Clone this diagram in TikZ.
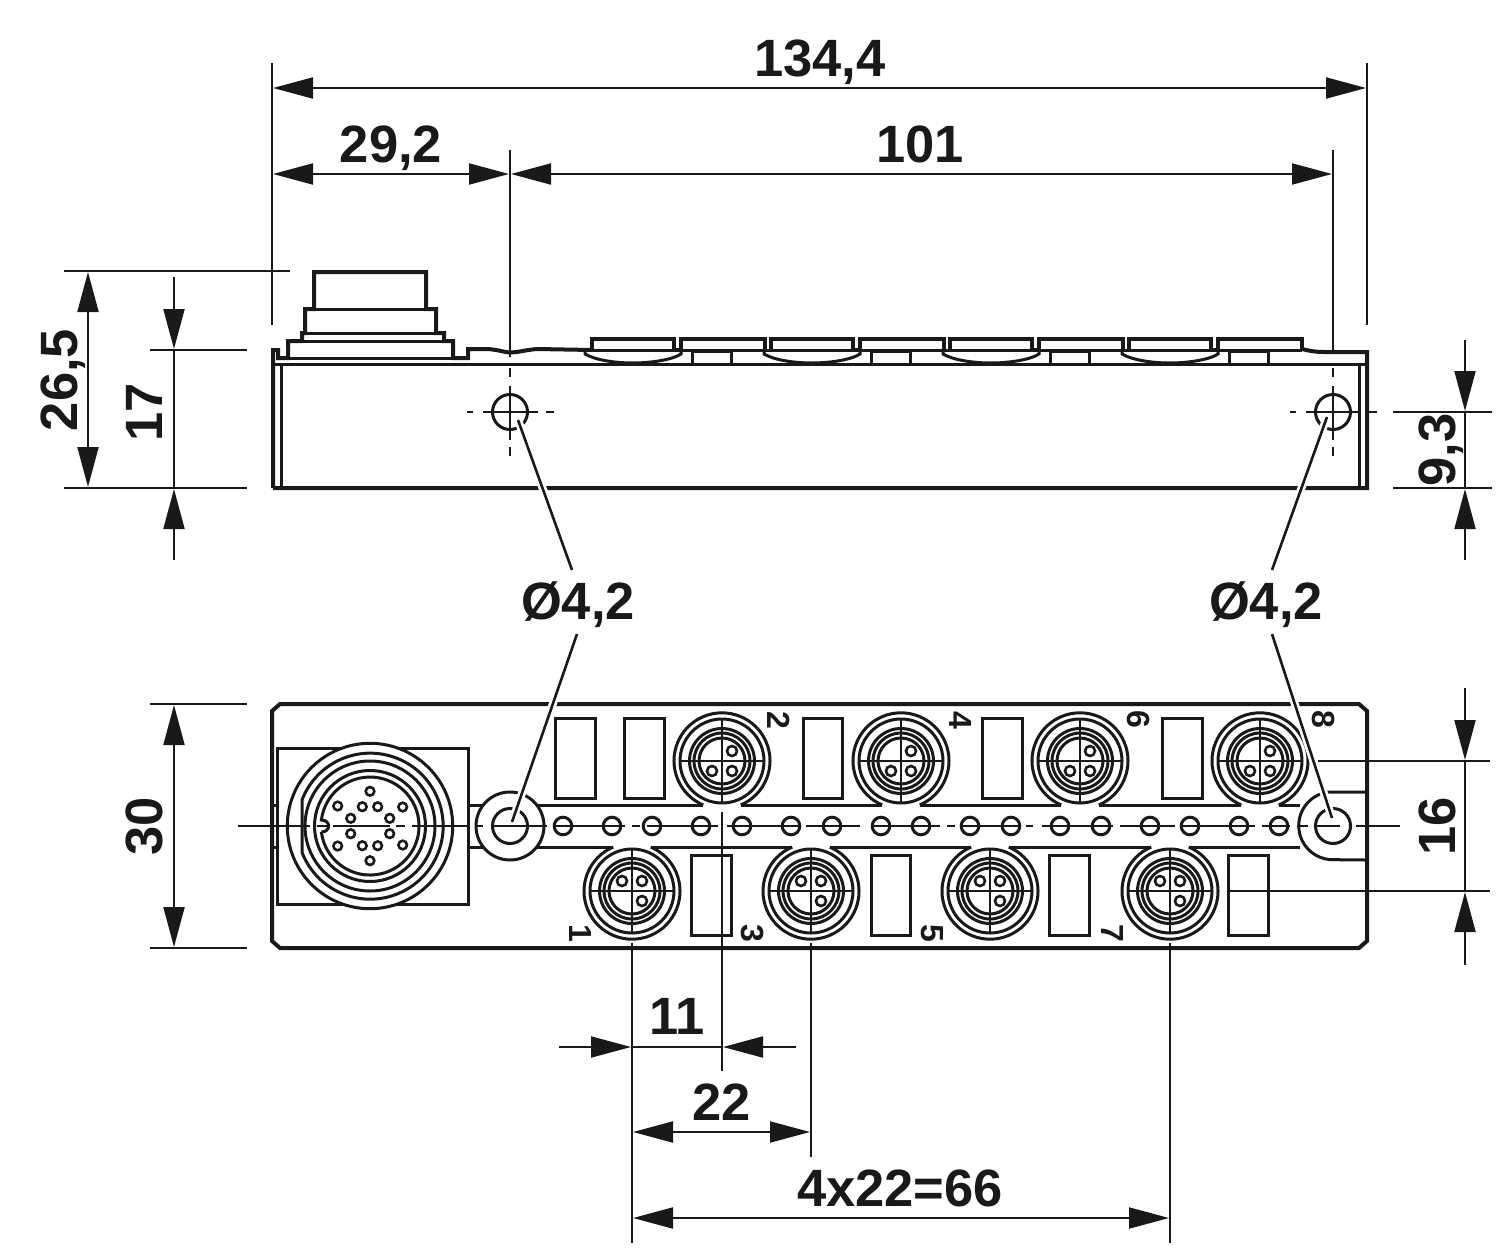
\documentclass[tikz,border=0pt]{standalone}
\usepackage{fontspec}
\setmainfont{Liberation Sans}
\usetikzlibrary{arrows.meta}
\tikzset{
  x=1pt,y=-1pt,
  dimline/.style={line width=2pt,black!90},
  dimtip/.style={dimline,-{Triangle[length=40pt,width=21pt]}},
  dimboth/.style={dimline,{Triangle[length=40pt,width=21pt]}-{Triangle[length=40pt,width=21pt]}},
  extline/.style={line width=2pt,black!90},
  bodyline/.style={line width=4pt,black!90,line join=miter},
  midline/.style={line width=3pt,black!90},
  thinpart/.style={line width=2.6pt,black!90},
  centreline/.style={line width=2.2pt,black!90},
  halo/.style={line width=8pt,white},
  leaderline/.style={line width=2.6pt,black!90},
  lab/.style={font=\bfseries\fontsize{52.5}{53}\selectfont,text=black!90,inner sep=0pt,anchor=base},
  vlab/.style={lab,rotate=90},
  posnum/.style={font=\bfseries\fontsize{32}{33}\selectfont,text=black!90,inner sep=0pt,rotate=-90}
}
\begin{document}
\begin{tikzpicture}
\useasboundingbox (0,0) rectangle (1500,1253);
\fill[white] (0,0) rectangle (1500,1253);

% ---------- side view
\draw[bodyline] (273,488) -- (273,350) -- (278,350) -- (278,358) -- (288,358) -- (288,341) -- (302,341) -- (302,333) -- (305,333)
  -- (305,309) -- (314,309) -- (314,272) -- (426,272) -- (426,309) -- (436,309) -- (436,333) -- (444,333) -- (444,341)
  -- (453,341) -- (453,358) -- (468,358) -- (468,349) -- (488,349) .. controls (500,350) and (505,352.5) .. (510,352.5)
  .. controls (518,352.5) and (525,350) .. (537,349) -- (592,350);
\draw[midline] (305,309) -- (436,309) (302,333) -- (444,333) (288,341) -- (453,341) (288,358) -- (453,358);
\draw[bodyline] (1302,349) .. controls (1310,351) and (1315,352) .. (1325,352) -- (1367,352) -- (1367,488) -- (273,488);
\draw[midline] (273,364) -- (1367,364);
\draw[midline] (281,364) -- (281,488);
\draw[midline] (1359,364) -- (1359,488);
\draw[midline] (585,350) -- (1302,350);
\foreach \k in {0,179,358,537}{
  \draw[bodyline] (592+\k,350) -- (592+\k,339) -- (674+\k,339) -- (674+\k,350) -- (681+\k,350);
  \draw[midline] (585+\k,351) -- (585+\k,354) .. controls (595+\k,360) and (615+\k,363) .. (633+\k,363) .. controls (650+\k,363) and (672+\k,360) .. (681+\k,354) -- (681+\k,351);
  \draw[bodyline] (681+\k,350) -- (681+\k,339) -- (765+\k,339) -- (765+\k,350);
  \draw[midline] (692+\k,351) rectangle (731+\k,364);
}
\foreach \cx in {510,1333}{
  \draw[midline] (\cx,412) circle[radius=17.5pt];
  \draw[centreline] (\cx-43,412) -- (\cx-37,412) (\cx-27,412) -- (\cx+28,412) (\cx+36,412) -- (\cx+44,412);
  \draw[centreline] (\cx,368) -- (\cx,377) (\cx,386) -- (\cx,440) (\cx,447) -- (\cx,456);
}

% ---------- front view
\draw[bodyline] (280,704) -- (1359,704) -- (1367,711) -- (1367,941) -- (1359,948) -- (280,948) -- (272,941) -- (272,711) -- cycle;
\draw[midline] (277,748) rectangle (468,904);
\draw[midline] (272,805) -- (277,805) (272,847) -- (277,847);
% bands
\draw[midline] (468,805) -- (500,805) (468,847) -- (500,847);
\draw[midline] (535,805) -- (703.3,805) (741,805) -- (882,805) (920,805) -- (1061,805) (1099,805) -- (1241,805) (1279,805) -- (1302,805);
\draw[midline] (535,847) -- (613,847) (651,847) -- (792,847) (830,847) -- (971,847) (1009,847) -- (1151,847) (1189,847) -- (1305,847);
% rectangles
\foreach \a/\b in {555/595,624/664,803/842,982/1022,1162/1202}{\draw[midline] (\a,718) rectangle (\b,798);}
\foreach \a/\b in {691/731,871/910,1049/1089,1228/1268}{\draw[midline] (\a,855) rectangle (\b,935);}
% big connector
\draw[midline,fill=white] (370,826) circle[radius=82.7pt];
\draw[midline] (302,800) arc[start angle=159,delta angle=-318,radius=73pt] -- cycle;
\draw[midline] (370,826) circle[radius=65pt];
\draw[midline] (370,826) circle[radius=55.5pt];
\draw[midline] (321.4,832) arc[start angle=187,delta angle=346,radius=49pt] .. controls (331,820) and (331,832) .. (321.4,832);
\foreach \dx/\dy in {0/-34.7,-32.3/-20,-7.7/-19.3,7.7/-19.3,32.7/-19,-19.3/-7.7,19.7/-7.7,-19.3/7.7,19.7/7.7,-32.3/20,-7.7/19.7,7.7/19.7,32.7/19,0/34.7}{
  \draw[thinpart] (370+\dx,826+\dy) circle[radius=4.3pt];
}
% mounting rings
\draw[midline,fill=white] (510,826) circle[radius=34pt];
\draw[midline] (510,826) circle[radius=17.5pt];
\fill[white] (1300,793.5) rectangle (1365,858.5);
\draw[midline] (1365,792) -- (1328,792) arc[start angle=98,delta angle=172,radius=34pt] -- (1365,860);
\draw[midline] (1333,826) circle[radius=17.5pt];
% LEDs
\foreach \lx in {563,612,652,701,742,791,832,881,921,970,1011,1060,1101,1150,1190,1239,1279}{
  \draw[midline] (\lx,826) circle[radius=8.8pt];
}
% connectors
\foreach \cx in {722,901,1080,1260}{
  \draw[midline] (\cx+18.75,805) arc[start angle=-67,delta angle=314,radius=48pt];
  \foreach \r in {42,32.5,28,23}{\draw[midline] (\cx,761) circle[radius=\r pt];}
  \draw[thinpart] (\cx-43,761) -- (\cx+43,761) (\cx,718) -- (\cx,804);
  \foreach \dx/\dy in {10/-10,-10/10,10/10}{\draw[thinpart] (\cx+\dx,761+\dy) circle[radius=5pt];}
}
\foreach \cx in {632,811,990,1170}{
  \draw[midline] (\cx-18.75,847) arc[start angle=113,delta angle=314,radius=48pt];
  \foreach \r in {42,32.5,28,23}{\draw[midline] (\cx,891) circle[radius=\r pt];}
  \draw[thinpart] (\cx-43,891) -- (\cx+43,891) (\cx,848) -- (\cx,934);
  \foreach \dx/\dy in {-10/-10,10/-10,10/10}{\draw[thinpart] (\cx+\dx,891+\dy) circle[radius=5pt];}
}
% centre line
\foreach \a/\b in {238/310,317/328,333/390,396/405,412/468,475/483,492/547,553/625,632/640,647/718,727/800,806/860,872/940,947/955,962/1019,1026/1033,1042/1113,1120/1175,1182/1255,1262/1290,1297/1308,1315/1340,1356/1400}{
  \draw[centreline] (\a,826) -- (\b,826);
}
% position numbers
\node[posnum] (n1) at (581,933) {1};
\node[posnum] (n3) at (752,933) {3};
\node[posnum] (n5) at (932,933) {5};
\node[posnum] (n7) at (1112,933) {7};
\node[posnum] (n2) at (779,720) {2};
\node[posnum] (n4) at (960,720) {4};
\node[posnum] (n6) at (1139,719) {6};
\node[posnum] (n8) at (1324,719) {8};

% ---------- leaders
\coordinate (lau) at (518,420); \coordinate (lam) at (572,570);
\coordinate (lbm) at (577,634); \coordinate (lbd) at (512,822);
\coordinate (rau) at (1327,417); \coordinate (ram) at (1272,570);
\coordinate (rbm) at (1272,634); \coordinate (rbd) at (1332,818);
\foreach \p/\q in {lau/lam,lbm/lbd,rau/ram,rbm/rbd}{
  \draw[halo] (\p) -- (\q);
  \draw[leaderline] (\p) -- (\q);
}
\node[lab] (d1) at (578,619) {Ø4,2};
\node[lab] (d2) at (1266,619) {Ø4,2};

% ---------- extension lines
\draw[extline] (272,63) -- (272,325);
\draw[extline] (1367,63) -- (1367,325);
\draw[extline] (510,150) -- (510,357);
\draw[extline] (1333,150) -- (1333,352);
\draw[extline] (64,271) -- (290,271);
\draw[extline] (64,488) -- (247,488);
\draw[extline] (150,350) -- (247,350);
\draw[extline] (150,704) -- (247,704);
\draw[extline] (150,948) -- (247,948);
\draw[extline] (1393,412) -- (1492,412);
\draw[extline] (1393,488) -- (1492,488);
\draw[extline] (1318,761) -- (1490,761);
\draw[extline] (1227,891) -- (1490,891);
\draw[extline] (632,943) -- (632,1243);
\draw[extline] (722,812) -- (722,1071);
\draw[extline] (811,943) -- (811,1157);
\draw[extline] (1170,943) -- (1170,1243);

% ---------- dimensions
\coordinate (a1) at (273,88); \coordinate (a2) at (1366,88);
\draw[dimboth] (a1) -- (a2);
\node[lab] (t1344) at (820,76.5) {134,4};
\coordinate (b1) at (273,174); \coordinate (b2) at (509,174); \coordinate (b3) at (511,174); \coordinate (b4) at (1332,174);
\draw[dimboth] (b1) -- (b2);
\draw[dimboth] (b3) -- (b4);
\node[lab] (t292) at (391,162.5) {29,2};
\node[lab] (t101) at (920,162.5) {101};
\coordinate (c1) at (88,272); \coordinate (c2) at (88,487);
\draw[dimboth] (c1) -- (c2);
\node[vlab] (t265) at (77,380) {26,5};
\coordinate (e1) at (174,277); \coordinate (e2) at (174,349); \coordinate (e3) at (174,560); \coordinate (e4) at (174,489);
\draw[dimtip] (e1) -- (e2);
\draw[dimtip] (e3) -- (e4);
\draw[dimline] (e2) -- (e4);
\node[vlab] (t17) at (162,412) {17};
\coordinate (f1) at (1465,340); \coordinate (f2) at (1465,411); \coordinate (f3) at (1465,560); \coordinate (f4) at (1465,489);
\draw[dimtip] (f1) -- (f2);
\draw[dimtip] (f3) -- (f4);
\draw[dimline] (f2) -- (f4);
\node[vlab] (t93) at (1455,450) {9,3};
\coordinate (g1) at (174,705); \coordinate (g2) at (174,947);
\draw[dimboth] (g1) -- (g2);
\node[vlab] (t30) at (162,826) {30};
\coordinate (h1) at (1465,688); \coordinate (h2) at (1465,760); \coordinate (h3) at (1465,965); \coordinate (h4) at (1465,892);
\draw[dimtip] (h1) -- (h2);
\draw[dimtip] (h3) -- (h4);
\draw[dimline] (h2) -- (h4);
\node[vlab] (t16) at (1455,826) {16};
\coordinate (i1) at (559,1047); \coordinate (i2) at (631,1047); \coordinate (i3) at (796,1047); \coordinate (i4) at (723,1047);
\draw[dimtip] (i1) -- (i2);
\draw[dimtip] (i3) -- (i4);
\draw[dimline] (i2) -- (i4);
\node[lab] (t11) at (677,1034) {11};
\coordinate (j1) at (633,1132); \coordinate (j2) at (810,1132);
\draw[dimboth] (j1) -- (j2);
\node[lab] (t22) at (722,1120) {22};
\coordinate (k1) at (633,1218); \coordinate (k2) at (1169,1218);
\draw[dimboth] (k1) -- (k2);
\node[lab] (t66) at (900,1206) {4x22=66};
\end{tikzpicture}
\end{document}
